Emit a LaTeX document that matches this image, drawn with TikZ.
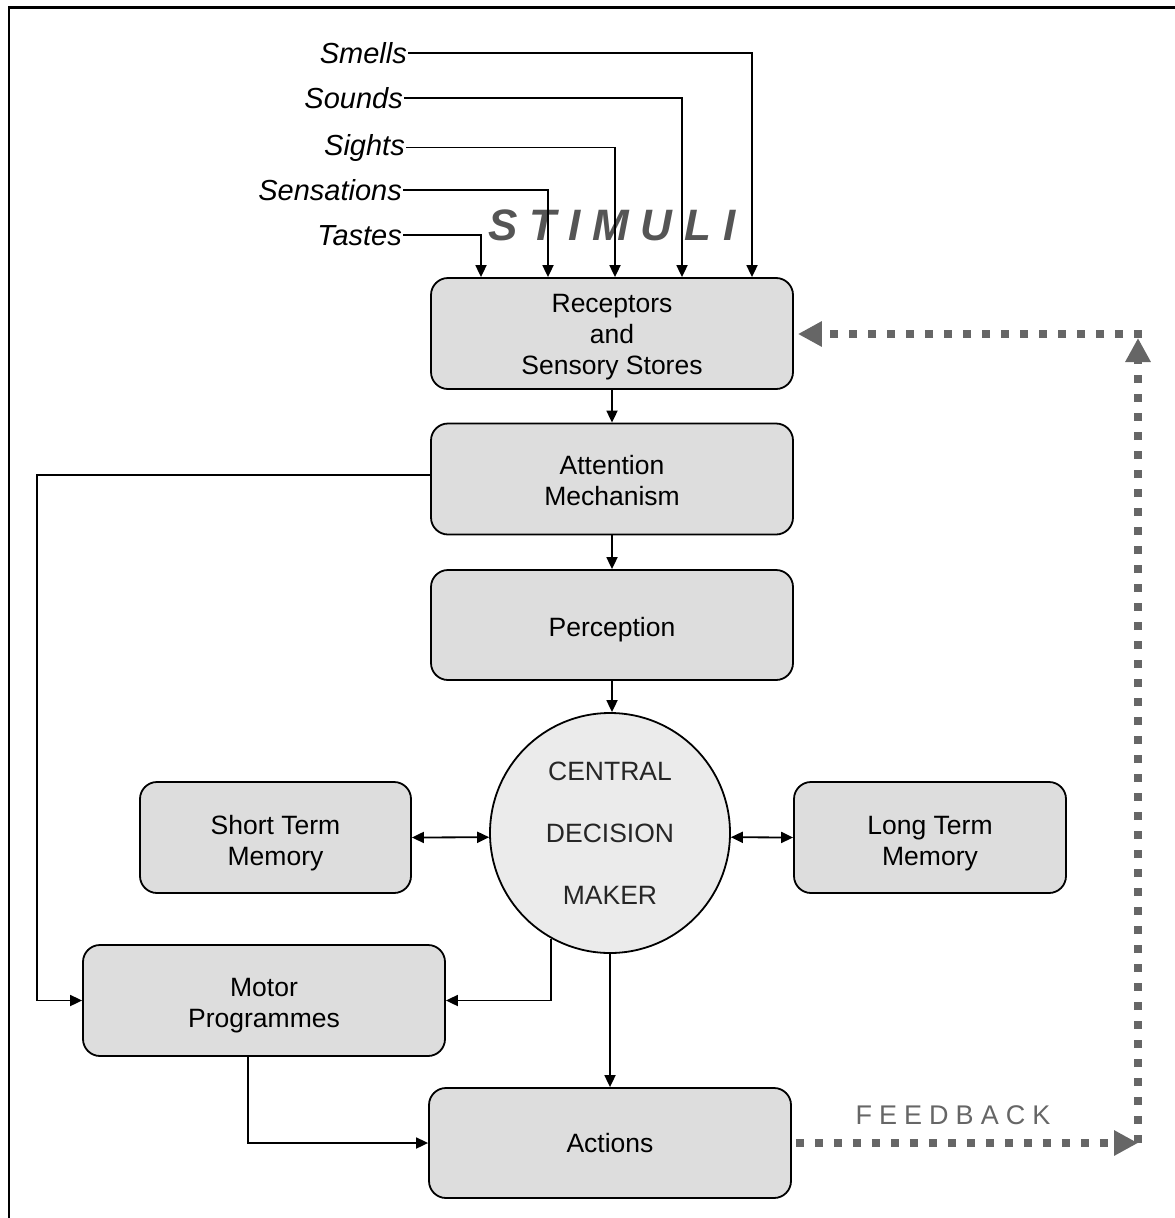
\documentclass[tikz,border=0pt]{standalone}
\usepackage{fontspec}
\setmainfont{Liberation Sans}
\usetikzlibrary{arrows.meta,calc}
\definecolor{boxfill}{HTML}{DDDDDD}
\definecolor{circfill}{HTML}{EBEBEB}
\definecolor{fbgray}{HTML}{666666}
\definecolor{stimgray}{HTML}{555555}
\newcommand{\tstrut}[1]{\rule{0pt}{#1pt}}
\begin{document}
\begin{tikzpicture}[x=1pt,y=-1pt,
  box/.style={draw=black,line width=1.8pt,fill=boxfill,rounded corners=17pt,minimum width=362pt,minimum height=111pt,inner sep=0pt,align=center,font=\fontsize{26.5}{31}\selectfont},
  stim/.style={anchor=base east,inner sep=1pt,font=\fontsize{29}{34}\selectfont\itshape},
  arr/.style={line width=1.8pt,-{Triangle[length=12pt,width=11pt]}},
  darr/.style={line width=1.8pt,{Triangle[length=12pt,width=11pt]}-{Triangle[length=12pt,width=11pt]}},
  fb/.style={draw=fbgray,line width=8pt,dash pattern=on 8pt off 11pt,-{Triangle[length=24pt,width=24pt]},color=fbgray}
]
\useasboundingbox (0,0) rectangle (1175,1218);
\draw[line width=2.5pt] (9,1218) -- (9,7.5) -- (1175,7.5);

% stimuli labels
\node[stim] (smells) at (408,63) {Smells};
\node[stim] (sounds) at (404,108) {Sounds};
\node[stim] (sights) at (406,155) {Sights};
\node[stim] (sens) at (403,200) {Sensations};
\node[stim] (tastes) at (403,245) {Tastes};

\node[text=stimgray,font=\fontsize{44}{50}\selectfont\bfseries\itshape\addfontfeature{LetterSpace=27}] (stimuli) at (612,225) {STIMULI};

% boxes
\node[box] (rec) at (612,333.5) {\tstrut{25}Receptors\\and\\Sensory Stores};
\node[box] (att) at (612,479) {\tstrut{23}Attention\\Mechanism};
\node[box,minimum height=110pt] (perc) at (612,625) {\tstrut{29}Perception};
\node[draw=black,line width=1.8pt,fill=circfill,circle,minimum size=240pt,inner sep=0pt,align=center,text=black!85,font=\fontsize{26.5}{62}\selectfont] (cdm) at (610,833) {CENTRAL\\DECISION\\MAKER};
\node[box,minimum width=271pt] (stm) at (275.5,837.5) {\tstrut{31}Short Term\\Memory};
\node[box,minimum width=272pt] (ltm) at (930,837.5) {\tstrut{31}Long Term\\Memory};
\node[box] (motor) at (264,1000.5) {\tstrut{29}Motor\\Programmes};
\node[box,minimum height=110pt] (act) at (610,1143) {Actions};

% stimuli arrows
\draw[arr] (smells.east) -| ([xshift=140pt]rec.north);
\draw[arr] (sounds.east) -| ([xshift=70pt]rec.north);
\draw[arr] (sights.east) -| ([xshift=3pt]rec.north);
\draw[arr] (sens.east) -| ([xshift=-64pt]rec.north);
\draw[arr] (tastes.east) -| ([xshift=-131pt]rec.north);

% main flow
\draw[arr] (rec.south) -- (att.north);
\draw[arr] (att.south) -- (perc.north);
\draw[arr] (perc.south) -- (perc.south |- cdm.north);
\draw[darr] (stm.east) -- (cdm.182.15);
\draw[darr] (cdm.-2.15) -- (ltm.west);
\coordinate (lx) at (37,475);
\draw[arr] (att.west |- lx) -- (lx) |- (motor.west);
\draw[arr] (cdm.-119.4) |- (motor.east);
\draw[arr] (cdm.south) -- (act.north);
\draw[arr] ([xshift=-16pt]motor.south) |- (act.west);

% feedback
\coordinate (fbb) at (1138,1143);
\coordinate (fbt) at (1138,334);
\draw[fb] ([xshift=4pt]act.east) -- (fbb);
\draw[fb] (fbb) -- ([yshift=-4pt]fbt);
\draw[fb] ([xshift=4pt]fbt) -- ([xshift=4pt]rec.east |- fbt);
\node[text=fbgray,font=\fontsize{27}{32}\selectfont\addfontfeature{LetterSpace=26}] (fbtext) at (953,1115) {FEEDBACK};
\end{tikzpicture}
\end{document}
